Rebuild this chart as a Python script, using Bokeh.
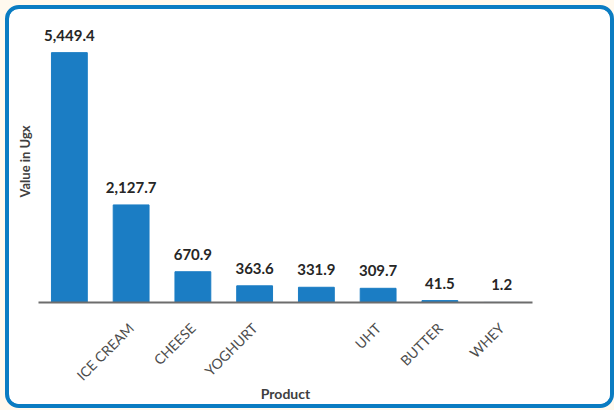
from math import pi

from bokeh.plotting import figure
from bokeh.models import ColumnDataSource, FixedTicker, Range1d
from bokeh.layouts import column
from bokeh.core.properties import value
from bokeh.embed import file_html
from bokeh.resources import INLINE

# ---- data ----
products = ["", "ICE CREAM", "CHEESE", "YOGHURT", "", "UHT", "BUTTER", "WHEY"]
values = [5449.4, 2127.7, 670.9, 363.6, 331.9, 309.7, 41.5, 1.2]
y_axis_title = "Value in Ugx"
x_axis_title = "Product"

positions = list(range(1, len(values) + 1))
value_text = [f"{v:,.1f}" for v in values]

source = ColumnDataSource(dict(x=positions, top=values, label=value_text))

BAR = "#1b7dc4"
TEXT_DARK = "#262626"
TEXT_GREY = "#4d4d4d"
FONT = "Lato"

p = figure(
    width=607, height=395,
    x_range=Range1d(0.5, len(values) + 0.5),
    y_range=Range1d(0, 6150),
    output_backend="svg", toolbar_location=None,
    min_border_left=29, min_border_right=78,
    min_border_top=11, min_border_bottom=102,
)
p.outline_line_color = None
p.background_fill_color = "white"
p.border_fill_color = "white"
p.xgrid.visible = False
p.ygrid.visible = False

p.vbar(x="x", top="top", width=0.58, source=source, fill_color=BAR, line_color=BAR)
p.text(x="x", y="top", text="label", source=source,
       text_align="center", text_baseline="bottom", y_offset=-12,
       text_font=value(FONT), text_font_style="bold", text_font_size="15px",
       text_color=TEXT_DARK)

# x axis
xa = p.xaxis[0]
xa.ticker = FixedTicker(ticks=positions)
xa.major_label_overrides = {x: name for x, name in zip(positions, products)}
xa.major_label_orientation = pi / 4
xa.major_tick_line_color = None
xa.minor_tick_line_color = None
xa.axis_line_color = "#6d6d6d"
xa.axis_line_width = 2
xa.major_label_text_font = FONT
xa.major_label_text_font_size = "14px"
xa.major_label_text_color = TEXT_GREY
xa.major_label_standoff = 17
xa.axis_label = x_axis_title
xa.axis_label_text_font = FONT
xa.axis_label_text_font_style = "bold"
xa.axis_label_text_font_size = "14px"
xa.axis_label_text_color = "#404040"
xa.axis_label_standoff = -8

# y axis (title only)
ya = p.yaxis[0]
ya.ticker = FixedTicker(ticks=[])
ya.major_tick_line_color = None
ya.minor_tick_line_color = None
ya.axis_line_color = None
ya.major_label_standoff = 0
ya.axis_label = y_axis_title
ya.axis_label_text_font = FONT
ya.axis_label_text_font_style = "bold"
ya.axis_label_text_font_size = "13px"
ya.axis_label_text_color = "#404040"
ya.axis_label_standoff = 6

framed = column(p, styles={
    "border": "4px solid #0a7cc2",
    "border-radius": "14px",
    "overflow": "hidden",
    "background-color": "white",
})
page = column(framed, width=614, height=410, styles={
    "background-color": "#fff9ee",
    "padding": "5px 0 0 5px",
    "overflow": "hidden",
})

open("out.html", "w").write(file_html(page, INLINE))
